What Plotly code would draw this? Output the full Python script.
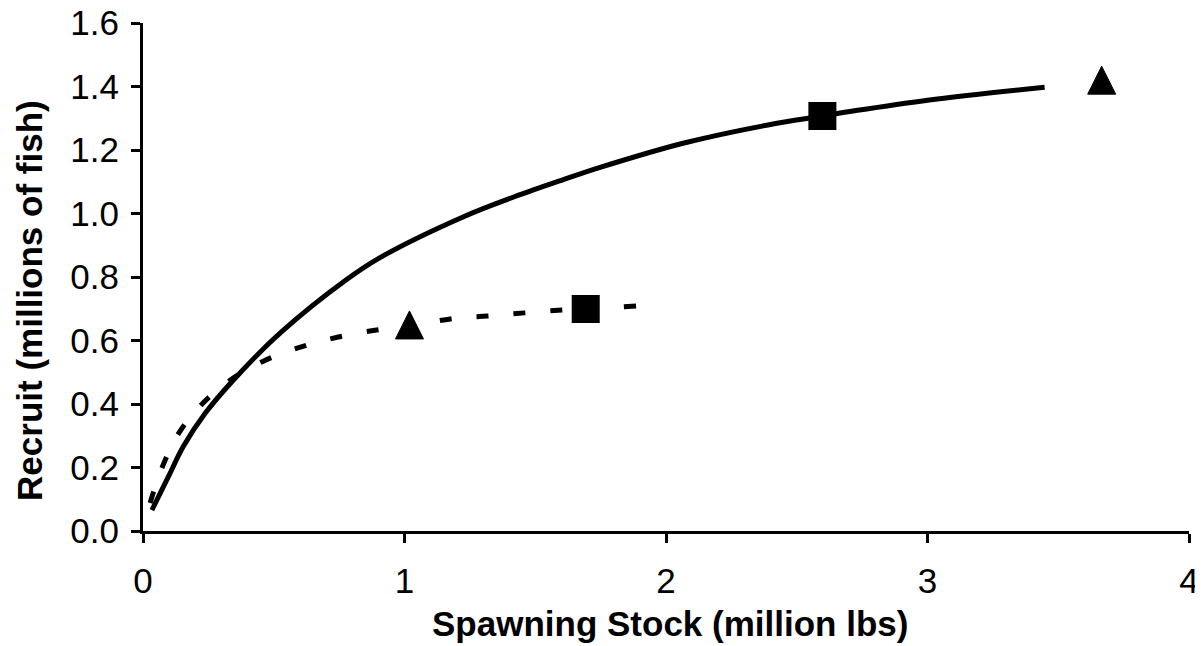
import plotly.graph_objects as go

# Solid curve (spawning stock, recruits)
solid_x = [0.034, 0.097, 0.154, 0.237, 0.345, 0.525, 0.78, 0.908, 1.226, 1.418,
           1.605, 1.751, 2.069, 2.39, 2.598, 2.709, 3.0, 3.448]
solid_y = [0.066, 0.171, 0.266, 0.37, 0.475, 0.624, 0.793, 0.862, 0.99, 1.052,
           1.106, 1.146, 1.222, 1.279, 1.307, 1.322, 1.357, 1.398]

# Dashed curve
dash_x = [0.027, 0.073, 0.138, 0.226, 0.333, 0.46, 0.605, 0.747, 0.893, 1.019,
          1.176, 1.318, 1.46, 1.605, 1.693, 1.889]
dash_y = [0.088, 0.20, 0.31, 0.40, 0.475, 0.535, 0.58, 0.611, 0.633, 0.645,
          0.668, 0.677, 0.687, 0.696, 0.699, 0.709]

# Observed points
square_x = [2.598, 1.693]
square_y = [1.307, 0.699]
triangle_x = [3.666, 1.019]
triangle_y = [1.42, 0.649]

x_ticks = [0, 1, 2, 3, 4]
y_ticks = [0.0, 0.2, 0.4, 0.6, 0.8, 1.0, 1.2, 1.4, 1.6]
y_ticklabels = ["0.0", "0.2", "0.4", "0.6", "0.8", "1.0", "1.2", "1.4", "1.6"]

x_title = "Spawning Stock (million lbs)"
y_title = "Recruit (millions of fish)"

FONT = "Liberation Sans, Arial, sans-serif"
TRI = 28

fig = go.Figure()
fig.add_trace(go.Scatter(x=solid_x, y=solid_y, mode="lines",
                         line=dict(color="black", width=5, shape="spline"),
                         showlegend=False))
fig.add_trace(go.Scatter(x=dash_x, y=dash_y, mode="lines",
                         line=dict(color="black", width=5, shape="spline", dash="12px,25px"),
                         showlegend=False))
fig.add_trace(go.Scatter(x=square_x, y=square_y, mode="markers",
                         marker=dict(symbol="square", size=26, color="black",
                                     line=dict(color="black", width=2)),
                         showlegend=False))
fig.add_trace(go.Scatter(x=triangle_x, y=triangle_y, mode="markers",
                         marker=dict(symbol="arrow-down", angle=180, standoff=TRI / 2,
                                     size=TRI, color="black",
                                     line=dict(color="black", width=1)),
                         showlegend=False))

# page body adds an 8px offset; margins compensate so the plot area lands at x 143-1189, y 23-531
fig.update_layout(
    width=1203, height=646,
    paper_bgcolor="white", plot_bgcolor="white",
    margin=dict(l=135, r=22, t=15, b=123, autoexpand=False),
    font=dict(family=FONT, color="black", size=35),
    xaxis=dict(range=[0, 4], tickvals=x_ticks, ticks="outside", ticklen=9, tickwidth=3,
               tickcolor="black", showline=True, linecolor="black", linewidth=3,
               showgrid=False, zeroline=False, ticklabelstandoff=8, automargin=False,
               ticklabeloverflow="allow", tickfont=dict(size=35, family=FONT)),
    yaxis=dict(range=[0, 1.6], tickvals=y_ticks, ticktext=y_ticklabels, ticks="outside",
               ticklen=9, tickwidth=3, tickcolor="black", showline=True, linecolor="black",
               linewidth=3, showgrid=False, zeroline=False, ticklabelstandoff=5,
               automargin=False, ticklabeloverflow="allow",
               tickfont=dict(size=35, family=FONT)),
    annotations=[
        dict(text="<b>" + x_title + "</b>", xref="paper", yref="paper",
             x=0.504, y=-0.183, xanchor="center", yanchor="middle", showarrow=False,
             font=dict(size=35, family=FONT, color="black")),
        dict(text="<b>" + y_title + "</b>", xref="paper", yref="paper",
             x=-0.108, y=0.453, xanchor="center", yanchor="middle", showarrow=False,
             textangle=-90, font=dict(size=35, family=FONT, color="black")),
    ],
)

fig.write_html("out.html")
